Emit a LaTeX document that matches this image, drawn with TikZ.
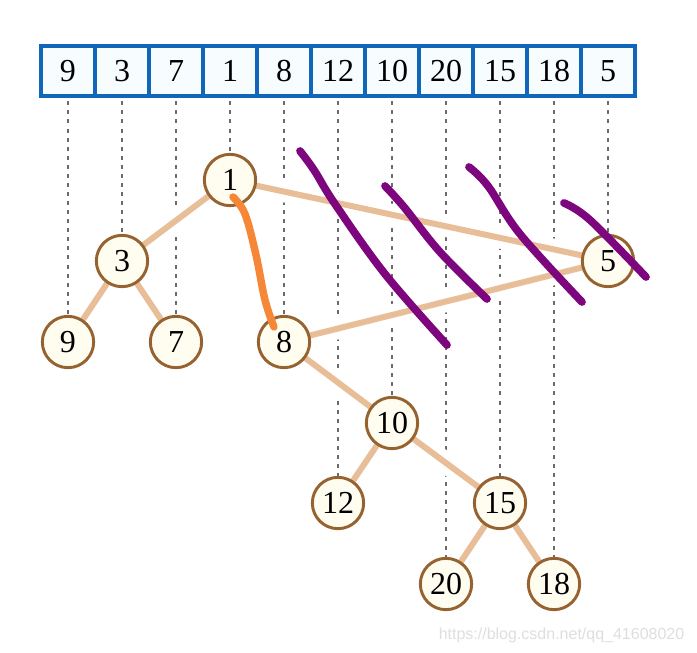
\documentclass[tikz,border=0pt]{standalone}
\usepackage{fontspec}
\setmainfont{Liberation Serif}
\newfontfamily\marca{Liberation Sans}
\usetikzlibrary{positioning}
\definecolor{azul}{RGB}{16,102,185}
\definecolor{azulc}{RGB}{247,252,255}
\definecolor{marrom}{RGB}{150,98,48}
\definecolor{creme}{RGB}{255,253,240}
\definecolor{bege}{RGB}{232,190,152}
\definecolor{roxo}{RGB}{125,5,125}
\definecolor{laranja}{RGB}{245,135,55}
\tikzset{
  cel/.style = {draw=azul, fill=azulc, line width=2.4pt, minimum width=40.5pt,
    minimum height=37.5pt, inner sep=0pt, outer sep=0pt,
    font=\fontsize{24}{28}\selectfont},
  no/.style = {circle, draw=marrom, fill=creme, line width=2.2pt,
    minimum size=38.5pt, inner sep=0pt, font=\fontsize{24}{28}\selectfont},
  halo/.style = {draw=white, line width=16pt},
  ar/.style = {draw=bege, line width=4.5pt},
  gd/.style = {draw=black!58, line width=2.2pt, dash pattern=on 3pt off 3.8pt},
  rx/.style = {draw=roxo, line width=5.8pt, line cap=round, line join=round},
  lj/.style = {draw=laranja, line width=5.6pt, line cap=round, line join=round},
  wm/.style = {font=\marca\fontsize{12}{14}\selectfont, text=black!13}
}

\begin{document}
\begin{tikzpicture}[x=0.75pt, y=-0.75pt]
  \useasboundingbox (0,0) rectangle (697,653);
  \node [cel] (c1) at (68,71) {9};
  \node [cel, right=0pt of c1] (c2) {3};
  \node [cel, right=0pt of c2] (c3) {7};
  \node [cel, right=0pt of c3] (c4) {1};
  \node [cel, right=0pt of c4] (c5) {8};
  \node [cel, right=0pt of c5] (c6) {12};
  \node [cel, right=0pt of c6] (c7) {10};
  \node [cel, right=0pt of c7] (c8) {20};
  \node [cel, right=0pt of c8] (c9) {15};
  \node [cel, right=0pt of c9] (c10) {18};
  \node [cel, right=0pt of c10] (c11) {5};

  \coordinate (p1) at (230,180);
  \coordinate (p3) at (122,261);
  \coordinate (p9) at (68,342);
  \coordinate (p7) at (176,342);
  \coordinate (p8) at (284,342);
  \coordinate (p5) at (608,261);
  \coordinate (p10) at (392,423);
  \coordinate (p12) at (338,503);
  \coordinate (p15) at (500,503);
  \coordinate (p20) at (446,584);
  \coordinate (p18) at (554,584);

  \foreach \c/\p in {c1/p9, c2/p3, c3/p7, c4/p1, c5/p8, c6/p12, c7/p10,
      c8/p20, c9/p15, c10/p18, c11/p5}
    \draw [gd] ([yshift=-4pt]\c.south) -- (\p);

  \foreach \a/\b in {p1/p3, p1/p5, p3/p9, p3/p7, p5/p8, p8/p10, p10/p12,
      p10/p15, p15/p20, p15/p18}
    \draw [halo, shorten <=20pt, shorten >=20pt] (\a) -- (\b);
  \foreach \a/\b in {p1/p3, p1/p5, p3/p9, p3/p7, p5/p8, p8/p10, p10/p12,
      p10/p15, p15/p20, p15/p18}
    \draw [ar] (\a) -- (\b);

  \node [no] (n1) at (p1) {1};
  \node [no] (n3) at (p3) {3};
  \node [no] (n9) at (p9) {9};
  \node [no] (n7) at (p7) {7};
  \node [no] (n8) at (p8) {8};
  \node [no] (n5) at (p5) {5};
  \node [no] (n10) at (p10) {10};
  \node [no] (n12) at (p12) {12};
  \node [no] (n15) at (p15) {15};
  \node [no] (n20) at (p20) {20};
  \node [no] (n18) at (p18) {18};

  \draw [rx] plot [smooth, tension=0.6] coordinates {(300,151) (314,170)
      (335,204) (385,274) (447,345)};
  \draw [rx] plot [smooth, tension=0.6] coordinates {(385,186) (404,207)
      (440,252) (487,299)};
  \draw [rx] plot [smooth, tension=0.6] coordinates {(469,167) (488,186)
      (520,234) (582,302)};
  \draw [rx] plot [smooth, tension=0.6] coordinates {(564,203) (590,220)
      (646,277)};
  \draw [lj] plot [smooth, tension=0.6] coordinates {(233,197) (245,214)
      (256,255) (265,300) (274,327)};

  \node [wm, anchor=east] (wmk) at (689,635) {https://blog.csdn.net/qq\_41608020};
\end{tikzpicture}
\end{document}
